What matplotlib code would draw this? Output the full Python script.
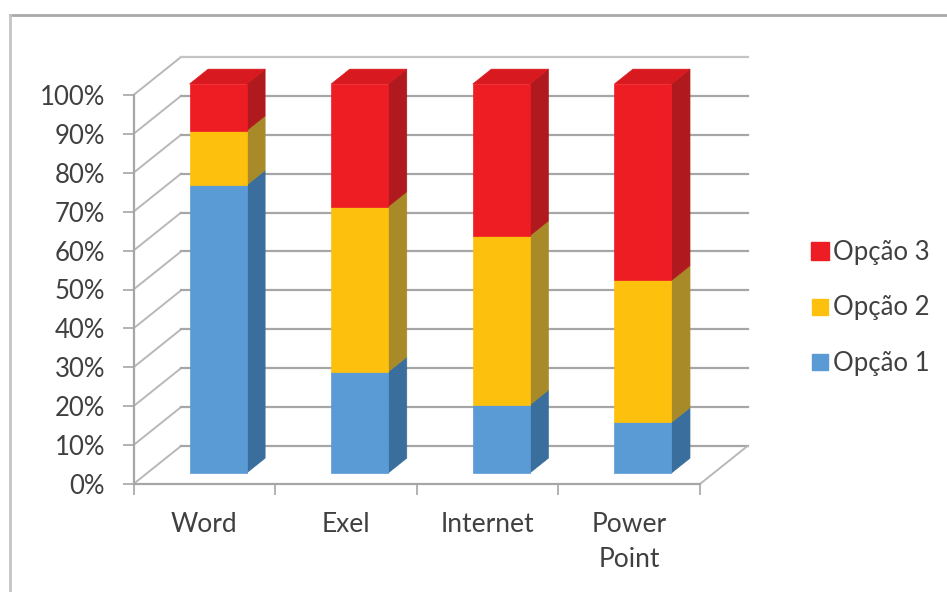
import matplotlib
matplotlib.use("Agg")
import matplotlib.pyplot as plt
from matplotlib.patches import Polygon
from matplotlib.lines import Line2D

categories = ["Word", "Exel", "Internet", "Power\nPoint"]
series_names = ["Opção 1", "Opção 2", "Opção 3"]
opcao1 = [74, 26, 17.5, 13]
opcao2 = [14, 42.5, 43.5, 36.5]
opcao3 = [12, 31.5, 39, 50.5]
y_ticks = list(range(0, 101, 10))

FRONT = ["#5B9BD5", "#FDC10D", "#EE1C23"]
SIDE = ["#3A6E9C", "#A88A28", "#B01A1E"]
TOP = "#D81A20"
GRID = "#a6a6a6"
TEXT = "#404040"

plt.rcParams["font.family"] = ["Lato", "DejaVu Sans"]
W, H = 947, 592
fig = plt.figure(figsize=(W / 100, H / 100), dpi=100, facecolor="white")
L, R, T, B = 133.5, 700, 95, 484
ax = fig.add_axes([L / W, 1 - B / H, (R - L) / W, (B - T) / H])
ax.set_xlim(-0.5, 3.5)
ax.set_ylim(0, 100)
ax.patch.set_visible(False)

Dx = 47.5 / ((R - L) / 4)
Dy = 38 / ((B - T) / 100)


def proj(x, y, z):
    return (x + z * Dx, y + z * Dy)


# walls: grid lines
for t in y_ticks:
    a = proj(-0.5, t, 0)
    b = proj(-0.5, t, 1)
    c = proj(3.5, t, 1)
    col = "#c4c4c4" if t == 100 else GRID
    ax.plot([a[0], b[0]], [a[1], b[1]], color="#b8b8b8", lw=1.4, clip_on=False, zorder=1)
    ax.plot([b[0], c[0]], [b[1], c[1]], color=col, lw=1.6, clip_on=False, zorder=1)
a, b = proj(3.5, 0, 0), proj(3.5, 0, 1)
ax.plot([a[0], b[0]], [a[1], b[1]], color="#b8b8b8", lw=1.4, clip_on=False, zorder=1)

# bars
z0, z1 = 0.29, 0.68
bw = 57 / ((R - L) / 4)
for i in range(len(categories)):
    x0 = i - bw / 2
    x1 = i + bw / 2
    base = 0
    vals = [opcao1[i], opcao2[i], opcao3[i]]
    for k, v in enumerate(vals):
        top = base + v
        front = [proj(x0, base, z0), proj(x1, base, z0), proj(x1, top, z0), proj(x0, top, z0)]
        side = [proj(x1, base, z0), proj(x1, base, z1), proj(x1, top, z1), proj(x1, top, z0)]
        ax.add_patch(Polygon(side, closed=True, fc=SIDE[k], ec=SIDE[k], lw=0.5, clip_on=False, zorder=3))
        ax.add_patch(Polygon(front, closed=True, fc=FRONT[k], ec=FRONT[k], lw=0.5, clip_on=False, zorder=4))
        base = top
    cap = [proj(x0, base, z0), proj(x1, base, z0), proj(x1, base, z1), proj(x0, base, z1)]
    ax.add_patch(Polygon(cap, closed=True, fc=TOP, ec=TOP, lw=0.5, clip_on=False, zorder=3))

# axes
for s in ("top", "right"):
    ax.spines[s].set_visible(False)
for s in ("left", "bottom"):
    ax.spines[s].set_color(GRID)
    ax.spines[s].set_linewidth(1.6)
ax.set_yticks(y_ticks)
ax.set_yticklabels([f"{t}%" for t in y_ticks])
ax.tick_params(axis="y", length=8, width=1.2, color=GRID, labelcolor=TEXT, labelsize=18.5, pad=12.5)
ax.set_xticks(range(len(categories)))
ax.set_xticklabels(categories, linespacing=1.5)
ax.set_xticks([-0.5, 0.5, 1.5, 2.5, 3.5], minor=True)
ax.tick_params(axis="x", which="major", length=0, labelcolor=TEXT, labelsize=19, pad=20)
ax.tick_params(axis="x", which="minor", length=8, width=1.2, color=GRID)

# legend
handles = [
    Line2D([], [], linestyle="none", marker="s", markersize=ms, color=FRONT[k], label=series_names[k])
    for k, ms in zip([2, 1, 0], [13.5, 12, 12])
]
fig.legend(handles=handles, loc="center left", bbox_to_anchor=(802 / W, 1 - 308 / H),
           frameon=False, fontsize=18.5, labelcolor=TEXT, labelspacing=1.18,
           handletextpad=-0.2, handlelength=1.4, borderpad=0, borderaxespad=0)

# picture frame
fig.add_artist(Line2D([10 / W, 1], [1 - 15 / H, 1 - 15 / H], color="#a8a8a8", lw=2))
fig.add_artist(Line2D([10 / W, 10 / W], [0, 1 - 15 / H], color="#c4c4c4", lw=2))

fig.savefig("out.png", dpi=100)
